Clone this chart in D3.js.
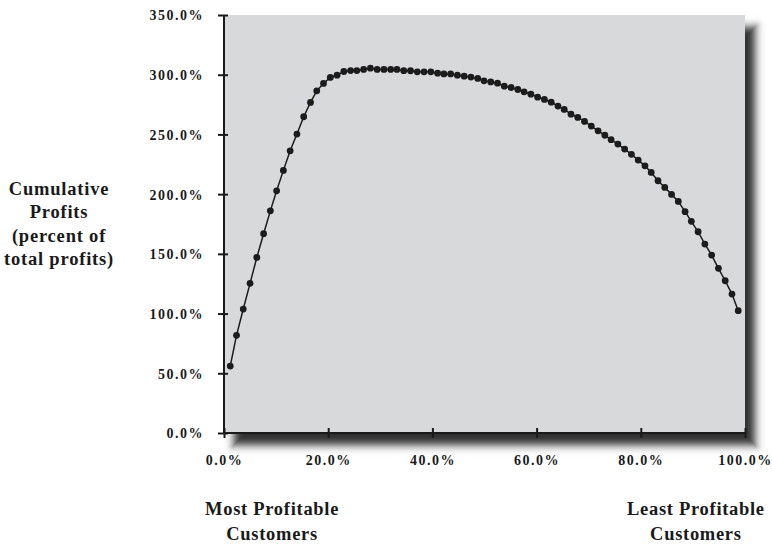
<!DOCTYPE html>
<html>
<head>
<meta charset="utf-8">
<script src="https://cdn.jsdelivr.net/npm/d3@7/dist/d3.min.js"></script>
<style>
  html, body { margin: 0; padding: 0; background: #ffffff; }
  svg { display: block; }
  text { font-family: "Liberation Serif", "Times New Roman", serif; font-weight: bold; fill: #1a1a1a; }
</style>
</head>
<body>
<svg id="chart" width="772" height="544"></svg>
<script>
// Share of customers (ranked most -> least profitable), percent
const customerShare = [
  1.2, 2.4, 3.7, 5.0, 6.3, 7.6, 8.9, 10.1, 11.4, 12.7,
  14.0, 15.3, 16.6, 17.8, 19.1, 20.4, 21.7, 23.0, 24.3, 25.5,
  26.8, 28.1, 29.4, 30.7, 32.0, 33.2, 34.5, 35.8, 37.1, 38.4,
  39.7, 41.0, 42.2, 43.5, 44.8, 46.1, 47.4, 48.7, 49.9, 51.2,
  52.5, 53.8, 55.1, 56.4, 57.6, 58.9, 60.2, 61.5, 62.8, 64.1,
  65.3, 66.6, 67.9, 69.2, 70.5, 71.8, 73.1, 74.3, 75.6, 76.9,
  78.2, 79.5, 80.8, 82.0, 83.3, 84.6, 85.9, 87.2, 88.5, 89.7,
  91.0, 92.3, 93.6, 94.9, 96.2, 97.5, 98.7
];
// Cumulative profits, percent of total profits
const cumulativeProfit = [
  56.0, 81.8, 103.8, 125.3, 147.0, 166.9, 186.0, 202.8, 219.9, 236.3,
  250.3, 264.8, 276.8, 286.5, 292.7, 297.7, 299.6, 302.7, 303.5, 303.5,
  304.4, 305.5, 304.4, 304.4, 304.4, 304.4, 303.4, 303.3, 302.4, 302.4,
  302.4, 301.3, 300.7, 300.7, 299.6, 298.8, 298.0, 296.9, 294.9, 294.0,
  292.9, 290.4, 289.3, 287.6, 285.7, 283.7, 281.2, 279.3, 277.0, 273.7,
  270.9, 267.0, 264.2, 260.9, 257.0, 253.0, 249.3, 245.6, 241.9, 237.7,
  233.3, 228.5, 223.7, 218.2, 211.2, 205.6, 199.8, 193.9, 185.3, 177.2,
  168.5, 158.2, 149.0, 137.9, 127.5, 116.3, 102.4
];
const xTicks = [0, 20, 40, 60, 80, 100];
const yTicks = [0, 50, 100, 150, 200, 250, 300, 350];
const yTitleLines = ["Cumulative", "Profits", "(percent of", "total profits)"];
const leftNote = ["Most Profitable", "Customers"];
const rightNote = ["Least Profitable", "Customers"];

const data = customerShare.map((x, i) => ({ x, y: cumulativeProfit[i] }));

const svg = d3.select("#chart");
const x0 = 224, x1 = 745, y0 = 433, y1 = 15;

const x = d3.scaleLinear().domain([0, 100]).range([x0, x1]);
const y = d3.scaleLinear().domain([0, 350]).range([y0, y1]);

// ---- soft drop shadow: nested layers, each from shifted/expanded copies of the scales
const shDx = 10, shDy = 12, shSigma = 4.5, shMax = 0.82, shReach = 12;
function phi(z) {
  const t = 1 / (1 + 0.2316419 * Math.abs(z));
  const dd = 0.3989423 * Math.exp(-z * z / 2);
  const p = dd * t * (0.3193815 + t * (-0.3565638 + t * (1.781478 + t * (-1.821256 + t * 1.330274))));
  return z > 0 ? 1 - p : p;
}
const layerData = d3.range(shReach, -shReach - 1, -1).map(k => {
  const sx = x.copy().range([x0 + shDx - k, x1 + shDx + k]);
  const sy = y.copy().range([y0 + shDy + k, y1 + shDy - k]);
  const v = Math.round(255 * (1 - shMax * phi(-(k - 0.5) / shSigma)));
  return { sx, sy, k, color: d3.rgb(v, v, v).formatHex() };
});
const plotG = svg.append("g");
plotG.selectAll("rect.layer").data(layerData).join("rect")
  .attr("class", "layer")
  .attr("x", d => d.sx(0)).attr("y", d => d.sy(350))
  .attr("width", d => d.sx(100) - d.sx(0)).attr("height", d => d.sy(0) - d.sy(350))
  .attr("rx", d => Math.max(0, d.k * 0.8))
  .attr("fill", d => d.color);

// plot background
plotG.append("rect")
  .attr("x", x(0)).attr("y", y(350))
  .attr("width", x(100) - x(0)).attr("height", y(0) - y(350))
  .attr("fill", "#d8d9db");

// line + points
const line = d3.line().x(d => x(d.x)).y(d => y(d.y));
svg.append("path").datum(data)
  .attr("d", line)
  .attr("fill", "none")
  .attr("stroke", "#1c1c1c")
  .attr("stroke-width", 1.5);

svg.append("g").selectAll("circle").data(data).join("circle")
  .attr("cx", d => x(d.x)).attr("cy", d => y(d.y))
  .attr("r", 3.4).attr("fill", "#1c1c1c");

// axes
const axisColor = "#1a1a1a";
const fmt = d => d3.format(".1f")(d) + "%";
const yAxis = svg.append("g").attr("transform", `translate(${x0},0)`)
  .call(d3.axisLeft(y).tickValues(yTicks).tickSize(0).tickFormat(fmt));
yAxis.select(".domain").remove();
yAxis.selectAll(".tick line").remove();
yAxis.selectAll(".tick").append("line")
  .attr("x1", -6).attr("x2", 4).attr("stroke", axisColor).attr("stroke-width", 2);
yAxis.selectAll(".tick text")
  .attr("x", -20).attr("dy", "0.35em")
  .style("font-size", "14px").style("letter-spacing", "1.5px")
  .attr("fill", "#1a1a1a");
yAxis.append("line").attr("x1", 0).attr("x2", 0).attr("y1", y(350)).attr("y2", y(0) + 1)
  .attr("stroke", axisColor).attr("stroke-width", 2);

const xAxis = svg.append("g").attr("transform", `translate(0,${y0})`)
  .call(d3.axisBottom(x).tickValues(xTicks).tickSize(0).tickFormat(fmt));
xAxis.select(".domain").remove();
xAxis.selectAll(".tick line").remove();
xAxis.selectAll(".tick").append("line")
  .attr("y1", -5).attr("y2", 5).attr("stroke", axisColor).attr("stroke-width", 2);
xAxis.selectAll(".tick text")
  .attr("y", 32).attr("dy", 0)
  .style("font-size", "14px").style("letter-spacing", "1.5px")
  .attr("fill", "#1a1a1a");
xAxis.append("line").attr("x1", x(0) - 1).attr("x2", x(100)).attr("y1", 0).attr("y2", 0)
  .attr("stroke", axisColor).attr("stroke-width", 2);

// y title
const yt = svg.append("text").attr("text-anchor", "middle")
  .style("font-size", "18.5px").style("letter-spacing", "0.8px");
yTitleLines.forEach((t, i) => {
  yt.append("tspan").attr("x", 59).attr("y", 195 + i * 23.3).text(t);
});

// bottom notes
function note(lines, cx) {
  const t = svg.append("text").attr("text-anchor", "middle")
    .style("font-size", "18.5px").style("letter-spacing", "0.7px");
  lines.forEach((s, i) => t.append("tspan").attr("x", cx).attr("y", 515 + i * 24.5).text(s));
}
note(leftNote, x(10) - 4);
note(rightNote, x(90) + 3);
</script>
</body>
</html>
